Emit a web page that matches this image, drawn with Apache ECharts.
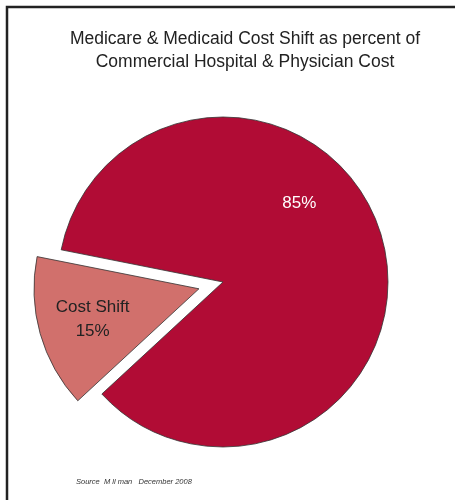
<!DOCTYPE html>
<html>
<head>
<meta charset="utf-8">
<script src="https://cdn.jsdelivr.net/npm/echarts@6/dist/echarts.min.js"></script>
<style>
html,body{margin:0;padding:0;background:#fff;}
#chart{width:455px;height:500px;}
</style>
</head>
<body>
<div id="chart"></div>
<script>
const titleLines = ['Medicare & Medicaid Cost Shift as percent of', 'Commercial Hospital & Physician Cost'];
const categories = ['Cost Shift', 'Other'];
const values = [15, 85];
const colors = ['#D1706C', '#B10C35'];
const sourceText = 'Source  M ll man   December 2008';

const chart = echarts.init(document.getElementById('chart'), null, {renderer: 'canvas'});
chart.setOption({
  animation: false,
  backgroundColor: '#ffffff',
  title: {
    text: titleLines.join('\n'),
    left: 240,
    top: 23,
    textAlign: 'center',
    textStyle: {
      fontFamily: 'Liberation Sans, Arial, sans-serif',
      fontSize: 17.5,
      fontWeight: 'normal',
      color: '#222',
      lineHeight: 23
    }
  },
  graphic: [
    {
      type: 'polyline',
      shape: {points: [[7, 520], [7, 7], [520, 7]]},
      style: {fill: 'none', stroke: '#222', lineWidth: 2.5},
      silent: true
    },
    {
      type: 'text',
      left: 76,
      top: 478,
      style: {
        text: sourceText,
        fontFamily: 'Liberation Sans, Arial, sans-serif',
        fontSize: 7.5,
        fontStyle: 'italic',
        fill: '#333'
      },
      silent: true
    }
  ],
  series: [{
    type: 'pie',
    center: [223, 282],
    radius: 165,
    startAngle: 222.75,
    clockwise: true,
    selectedMode: 'single',
    selectedOffset: 25,
    avoidLabelOverlap: false,
    emphasis: {disabled: true},
    silent: true,
    itemStyle: {borderColor: '#333', borderWidth: 0.8},
    label: {
      position: 'inside',
      fontFamily: 'Liberation Sans, Arial, sans-serif',
      fontSize: 17,
      lineHeight: 24
    },
    labelLine: {show: false},
    labelLayout: function (p) {
      if (p.dataIndex === 0) return {dx: -24, dy: 7};
      return {dx: -6, dy: -55};
    },
    data: categories.map((c, i) => ({
      name: c,
      value: values[i],
      selected: i === 0,
      itemStyle: {color: colors[i]},
      select: {itemStyle: {color: colors[i], borderColor: '#333', borderWidth: 0.8}},
      label: i === 0
        ? {formatter: '{b}\n{c}%', color: '#222'}
        : {formatter: '{c}%', color: '#ffffff'}
    }))
  }]
});
</script>
</body>
</html>
